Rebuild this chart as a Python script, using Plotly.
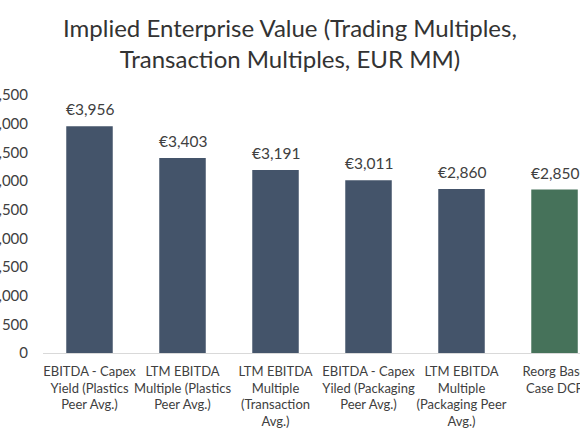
import plotly.graph_objects as go

# Data
categories = [
    "EBITDA - Capex<br>Yield (Plastics<br>Peer Avg.)",
    "LTM EBITDA<br>Multiple (Plastics<br>Peer Avg.)",
    "LTM EBITDA<br>Multiple<br>(Transaction<br>Avg.)",
    "EBITDA - Capex<br>Yiled (Packaging<br>Peer Avg.)",
    "LTM EBITDA<br>Multiple<br>(Packaging Peer<br>Avg.)",
    "Reorg Base<br>Case DCF",
]
values = [3956, 3403, 3191, 3011, 2860, 2850]
bar_colors = ["#44546A", "#44546A", "#44546A", "#44546A", "#44546A", "#46725A"]
y_ticks = [0, 500, 1000, 1500, 2000, 2500, 3000, 3500, 4000, 4500]

FONT = "Lato, 'Open Sans', sans-serif"
TEXT_COLOR = "#404040"

fig = go.Figure()
fig.add_trace(
    go.Bar(
        x=categories,
        y=values,
        marker=dict(color=bar_colors, line=dict(width=0)),
        width=0.5,
        hoverinfo="skip",
    )
)

# Value labels above bars
for cat, val in zip(categories, values):
    fig.add_annotation(
        x=cat,
        y=val,
        text=f"€{val:,}",
        showarrow=False,
        yanchor="bottom",
        yshift=6,
        font=dict(family=FONT, size=15.5, color=TEXT_COLOR),
    )

# Title as a two-line annotation
fig.add_annotation(
    text="Implied Enterprise Value (Trading Multiples,<br>Transaction Multiples, EUR MM)",
    xref="paper",
    yref="paper",
    x=0.46,
    y=1.325,
    xanchor="center",
    yanchor="top",
    showarrow=False,
    font=dict(family=FONT, size=24, color="#333333"),
)

fig.update_layout(
    width=580,
    height=435,
    paper_bgcolor="white",
    plot_bgcolor="white",
    margin=dict(l=43, r=0, t=95, b=82, autoexpand=False),
    showlegend=False,
    font=dict(family=FONT, color=TEXT_COLOR),
    xaxis=dict(
        range=[-0.5, 5.274],
        showline=True,
        linecolor="#D9D9D9",
        linewidth=1,
        showgrid=False,
        ticks="",
        automargin=False,
        tickangle=0,
        ticklabelstandoff=6,
        tickfont=dict(family=FONT, size=13, color=TEXT_COLOR),
    ),
    yaxis=dict(
        range=[0, 4500],
        tickvals=y_ticks,
        tickprefix="€",
        tickformat=",",
        showgrid=False,
        zeroline=False,
        showline=False,
        ticks="",
        automargin=False,
        ticklabelstandoff=14,
        tickfont=dict(family=FONT, size=15, color=TEXT_COLOR),
    ),
)

fig.write_html(
    "out.html",
    config={"displayModeBar": False},
    post_script="document.body.style.margin='0';",
)
